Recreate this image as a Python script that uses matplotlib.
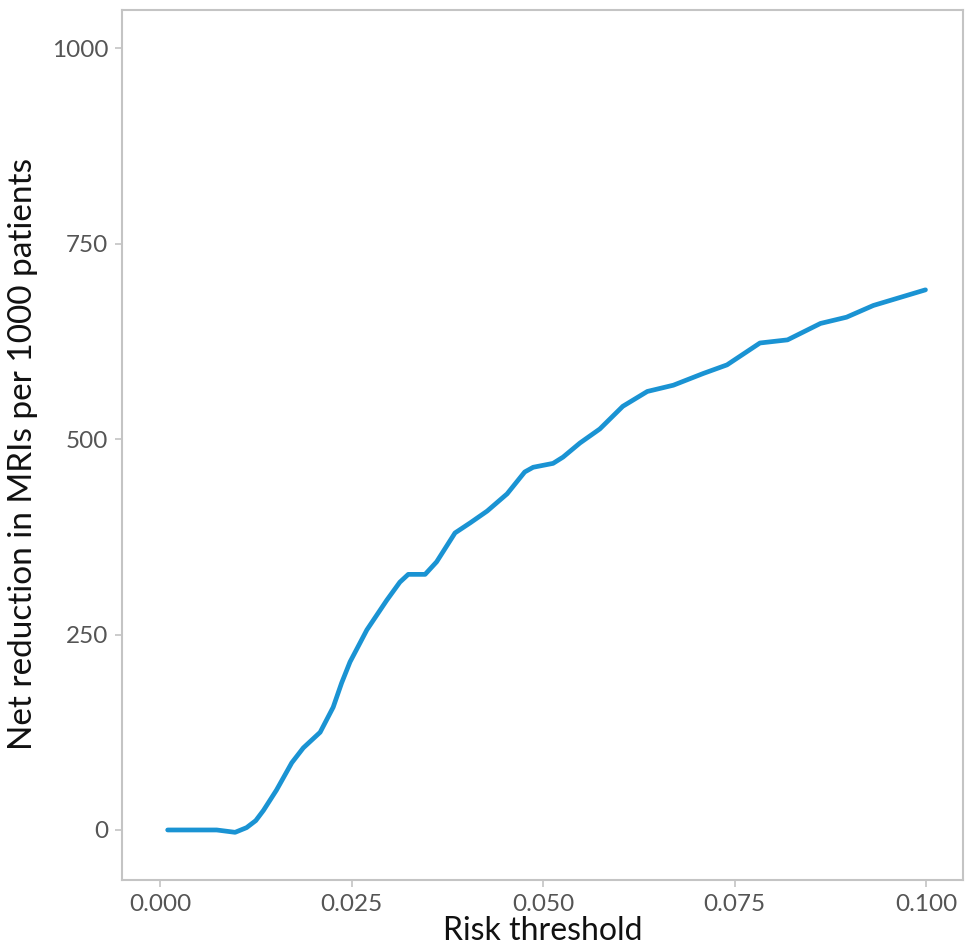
import matplotlib
matplotlib.use("Agg")
import matplotlib.pyplot as plt

# values
risk_threshold = [0.0010, 0.0040, 0.0074, 0.0098, 0.0113, 0.0125, 0.0135, 0.0152,
                  0.0172, 0.0187, 0.0209, 0.0226, 0.0237, 0.0248, 0.0270, 0.0296,
                  0.0313, 0.0324, 0.0346, 0.0361, 0.0385, 0.0405, 0.0427, 0.0453,
                  0.0476, 0.0487, 0.0513, 0.0526, 0.0548, 0.0574, 0.0604, 0.0636,
                  0.0670, 0.0709, 0.0740, 0.0783, 0.0819, 0.0862, 0.0896, 0.0931,
                  0.0999]
net_reduction = [0, 0, 0, -3, 3, 12, 25, 51,
                 86, 105, 125, 157, 188, 215, 256, 294,
                 317, 327, 327, 343, 380, 393, 408, 430,
                 458, 464, 469, 477, 495, 513, 542, 561,
                 569, 584, 595, 623, 627, 648, 656, 671,
                 691]

x_ticks = [0.0, 0.025, 0.05, 0.075, 0.1]
x_ticklabels = ["0.000", "0.025", "0.050", "0.075", "0.100"]
y_ticks = [0, 250, 500, 750, 1000]

plt.rcParams['font.family'] = ['Lato', 'DejaVu Sans']

fig = plt.figure(figsize=(9.68, 9.48), dpi=100)
ax = fig.add_axes([122/968, 68/948, 841/968, 870/948])

ax.plot(risk_threshold, net_reduction, color="#1a93d3", linewidth=3.4,
        solid_joinstyle="round", solid_capstyle="round")

ax.set_xlim(-0.00496, 0.1048)
ax.set_ylim(-64, 1049)

ax.set_xticks(x_ticks)
ax.set_xticklabels(x_ticklabels)
ax.set_yticks(y_ticks)

for s in ax.spines.values():
    s.set_color("#c4c4c4")
    s.set_linewidth(1.5)

ax.tick_params(axis="both", colors="#c4c4c4", length=5, width=1.2,
               labelcolor="#555555", labelsize=17.5, pad=5)

ax.set_xlabel("Risk threshold", fontsize=23, color="#111111", labelpad=1)
ax.set_ylabel("Net reduction in MRIs per 1000 patients", fontsize=24,
              color="#111111", labelpad=10, y=0.49)

fig.savefig("out.png", dpi=100, facecolor="white")
